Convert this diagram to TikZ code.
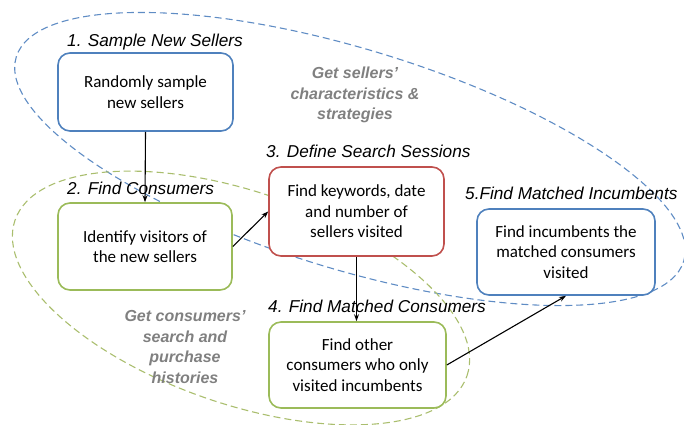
\documentclass[tikz,border=0pt]{standalone}
\usepackage{fontspec}
\setmainfont{Carlito}
\newfontfamily\arialfont{Liberation Sans}
\usetikzlibrary{arrows.meta}
\definecolor{bblue}{RGB}{79,129,189}
\definecolor{bgreen}{RGB}{155,187,89}
\definecolor{bred}{RGB}{192,80,77}
\definecolor{dblue}{RGB}{95,140,196}
\definecolor{dgreen}{RGB}{170,190,110}
\definecolor{gtext}{RGB}{128,128,128}
\tikzset{
  stepbox/.style={draw, rounded corners=12pt, line width=1.6pt, fill=white, inner sep=0pt,
    align=center, font=\fontsize{17}{20.5}\selectfont},
  titletext/.style={anchor=base west, inner sep=0pt, font=\arialfont\itshape\fontsize{17.2}{20}\selectfont},
  graytext/.style={text=gtext, align=center, inner sep=0pt, font=\arialfont\bfseries\itshape\fontsize{16}{20.7}\selectfont},
  grpline/.style={line width=1.1pt, dash pattern=on 7pt off 4pt},
  conn/.style={line width=1.1pt, -{Stealth[length=7pt,width=5pt]}}
}
\begin{document}
\begin{tikzpicture}[x=1pt,y=-1pt]
\useasboundingbox (0,0) rectangle (684,424);
% group ellipses
\draw[grpline, dblue, rotate around={-17:(350,159)}] (350,159) ellipse [x radius=349pt, y radius=110pt];
\draw[grpline, dgreen, rotate around={-19:(241,298)}] (241,298) ellipse [x radius=239pt, y radius=106pt];
% boxes
\node[stepbox, draw=bblue, minimum width=175pt, minimum height=78pt] (b1) at (145.5,92) {Randomly sample\\new sellers};
\node[stepbox, draw=bgreen, minimum width=174pt, minimum height=87pt] (b2) at (145,246.5) {Identify visitors of\\the new sellers};
\node[stepbox, draw=bred, minimum width=175pt, minimum height=89pt] (b3) at (356.5,211.5) {Find keywords, date\\and number of\\sellers visited};
\node[stepbox, draw=bgreen, minimum width=177pt, minimum height=86pt] (b4) at (357.5,365) {Find other\\consumers who only\\visited incumbents};
\node[stepbox, draw=bblue, minimum width=178pt, minimum height=86pt] (b5) at (566,252) {Find incumbents the\\matched consumers\\visited};
% titles
\node[titletext] (t1) at (67,46) {1. Sample New Sellers};
\node[titletext] (t2) at (67,194) {2. Find Consumers};
\node[titletext] (t3) at (266,157) {3. Define Search Sessions};
\node[titletext] (t4) at (268,312) {4. Find Matched Consumers};
\node[titletext] (t5) at (465,199) {5.Find Matched Incumbents};
% group labels
\node[graytext] (g1) at (355,95) {Get sellers’\\characteristics \&\\strategies};
\node[graytext] (g2) at (185,347) {Get consumers’\\search and\\purchase\\histories};
% connectors
\draw[conn] (b1.south) -- (b2.north);
\draw[conn] (b2.east) -- (b3.west);
\draw[conn] (b3.south) -- (b4.north -| b3.south);
\draw[conn] (b4.east) -- (b5.south);
\end{tikzpicture}
\end{document}
